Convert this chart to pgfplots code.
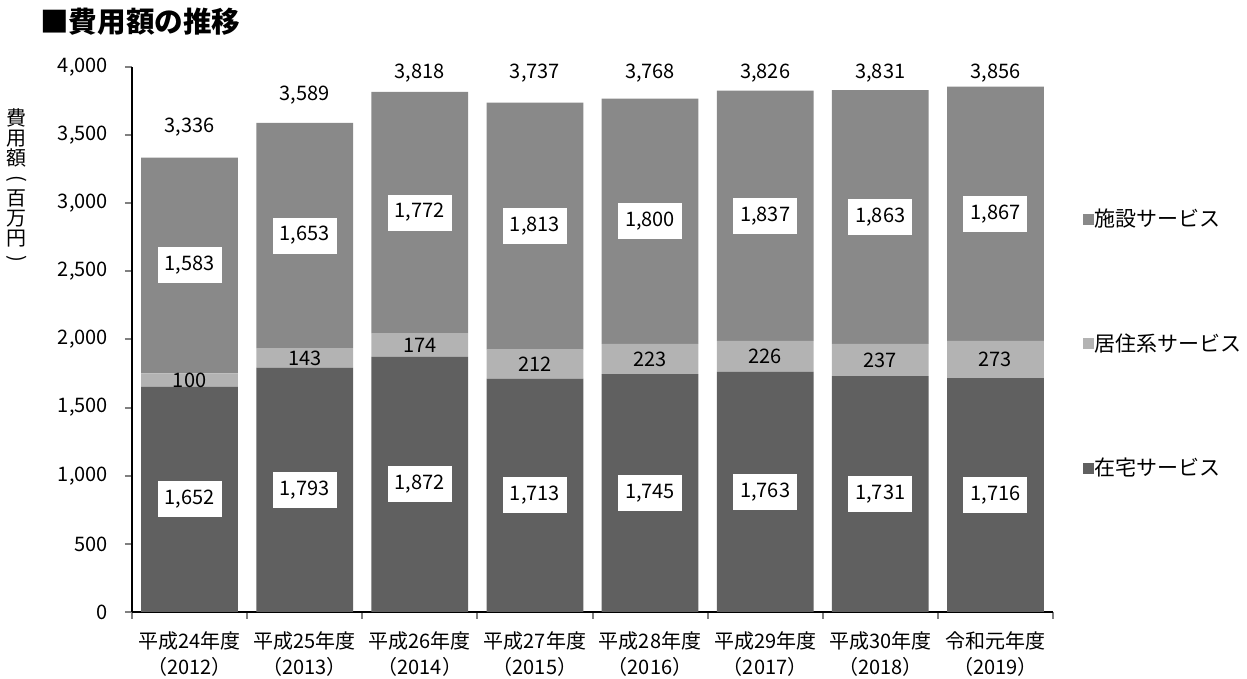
\documentclass[border=0pt]{standalone}
\usepackage{pgfplots}
\pgfplotsset{compat=1.18}
\usepackage{pgfplotstable}
\usepackage{graphicx}
\usepackage{fontspec}
\setmainfont{Noto Sans CJK JP}

\definecolor{zaitaku}{HTML}{606060}
\definecolor{kyoju}{HTML}{B3B3B3}
\definecolor{shisetsu}{HTML}{898989}

% segments: 在宅, 居住系, 施設 (million yen)
\pgfplotstableread{
x zaitaku kyoju shisetsu
0 1652 100 1583
1 1793 143 1653
2 1872 174 1772
3 1713 212 1813
4 1745 223 1800
5 1763 226 1837
6 1731 237 1863
7 1716 273 1867
}\costs

% label positions (segment centres) and totals
\pgfplotstableread{
x y lab
0 826 1,652
1 896.5 1,793
2 936 1,872
3 856.5 1,713
4 872.5 1,745
5 881.5 1,763
6 865.5 1,731
7 858 1,716
}\labzai
\pgfplotstableread{
x y lab
0 1702 100
1 1864.5 143
2 1959 174
3 1819 212
4 1856.5 223
5 1876 226
6 1849.5 237
7 1852.5 273
}\labkyo
\pgfplotstableread{
x y lab
0 2543.5 1,583
1 2762.5 1,653
2 2932 1,772
3 2831.5 1,813
4 2868 1,800
5 2907.5 1,837
6 2899.5 1,863
7 2922.5 1,867
}\labshi
\pgfplotstableread{
x y lab
0 3560 3,336
1 3794 3,589
2 3956 3,818
3 3956 3,737
4 3956 3,768
5 3956 3,826
6 3956 3,831
7 3956 3,856
}\labtot

\begin{document}
\begin{tikzpicture}
\useasboundingbox (-66pt,-33.5pt) rectangle (557.5pt,306pt);
\pgfplotsset{
  frame/.style={at={(0,0)}, anchor=south west, scale only axis,
    width=460.5pt, height=272.5pt,
    xmin=-0.5, xmax=7.5, ymin=0, ymax=4000, clip=false},
}
\begin{axis}[frame,
  ybar stacked, bar width=0.84,
  axis x line*=bottom, axis y line*=left,
  axis line style={line width=1pt},
  ytick={0,500,...,4000},
  /pgf/number format/1000 sep={,},
  /pgf/number format/assume math mode=true,
  xtick={0,...,7},
  xticklabels={平成24年度\\（2012）,平成25年度\\（2013）,平成26年度\\（2014）,平成27年度\\（2015）,平成28年度\\（2016）,平成29年度\\（2017）,平成30年度\\（2018）,令和元年度\\（2019）},
  minor xtick={-0.5,0.5,...,7.5},
  major x tick style={draw=none},
  minor x tick style={line width=1pt},
  y tick style={line width=1pt},
  tick align=outside, major tick length=3.5pt, minor tick length=3.5pt,
  ticklabel style={font=\fontsize{10}{13}\selectfont},
  xticklabel style={align=center, yshift=-3pt},
  yticklabel style={xshift=-5pt},
  legend style={at={(axis description cs:1.026,0.748)}, anchor=north west,
    draw=none, fill=none, row sep=52pt, font=\fontsize{10.5}{12}\selectfont,
    nodes={inner sep=0pt}},
  legend cell align=left, reverse legend,
]
\addplot[fill=zaitaku, draw=none,
  legend image code/.code={\fill[zaitaku] (0pt,-2.75pt) rectangle (5.5pt,2.75pt);}]
  table[x=x, y=zaitaku] {\costs};
\addlegendentry{在宅サービス}
\addplot[fill=kyoju, draw=none,
  legend image code/.code={\fill[kyoju] (0pt,-2.75pt) rectangle (5.5pt,2.75pt);}]
  table[x=x, y=kyoju] {\costs};
\addlegendentry{居住系サービス}
\addplot[fill=shisetsu, draw=none,
  legend image code/.code={\fill[shisetsu] (0pt,-2.75pt) rectangle (5.5pt,2.75pt);}]
  table[x=x, y=shisetsu] {\costs};
\addlegendentry{施設サービス}
\end{axis}

\begin{axis}[frame, hide axis,
  nodes near coords, point meta=explicit symbolic,
  every node near coord/.append style={anchor=center, text=black,
    font=\fontsize{10}{12}\selectfont},
  boxed/.style={every node near coord/.append style={fill=white,
    minimum height=18pt, inner xsep=3.5pt, inner ysep=0pt}},
]
\addplot[draw=none, no marks, boxed] table[x=x, y=y, meta=lab] {\labzai};
\addplot[draw=none, no marks] table[x=x, y=y, meta=lab] {\labkyo};
\addplot[draw=none, no marks, boxed] table[x=x, y=y, meta=lab] {\labshi};
\addplot[draw=none, no marks] table[x=x, y=y, meta=lab] {\labtot};
\end{axis}

\node[anchor=west, inner sep=0pt, font=\fontsize{14.3}{16}\selectfont\bfseries]
  at (-46pt,295pt) {■費用額の推移};
\node[align=center, font=\fontsize{10}{10}\selectfont]
  at (-57.5pt,212.5pt)
  {費\\用\\額\\\rotatebox[origin=c]{-90}{(}\\百\\万\\円\\\rotatebox[origin=c]{-90}{)}};
\end{tikzpicture}
\end{document}
